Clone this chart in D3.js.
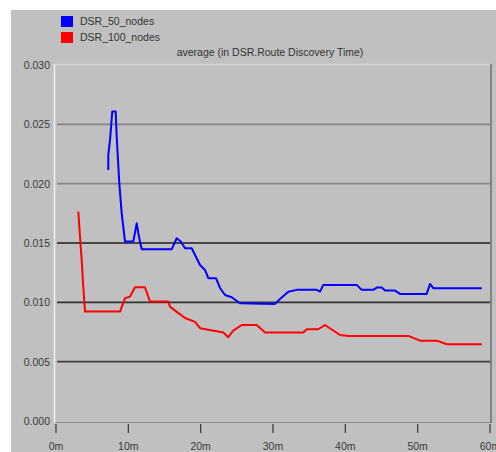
<!DOCTYPE html>
<html>
<head>
<meta charset="utf-8">
<script src="https://cdn.jsdelivr.net/npm/d3@7/dist/d3.min.js"></script>
<style>
  html, body { margin: 0; padding: 0; background: #fff; }
</style>
</head>
<body>
<svg id="chart"></svg>
<script>
// series: time in minutes, value in seconds
const seriesNames = ['DSR_50_nodes', 'DSR_100_nodes'];
const seriesColors = ['#0000ff', '#ff0000'];

const blueTimes = [7.23, 7.23, 7.47, 7.78, 8.25, 8.39, 8.75, 9.08, 9.3, 9.54, 10.69, 11.16, 11.38, 11.61,
  11.85, 16.0, 16.69, 17.24, 17.84, 18.76, 19.45, 19.91, 20.6, 21.06, 22.12, 22.67, 23.37, 24.29, 25.44,
  30.28, 30.97, 32.12, 33.28, 36.04, 36.5, 36.96, 41.57, 42.26, 43.87, 44.34, 45.03, 45.49, 46.87, 47.56,
  51.25, 51.71, 52.16, 58.86];
const blueValues = [0.02116, 0.02243, 0.02369, 0.02608, 0.02608, 0.02397, 0.02004, 0.01751, 0.01638,
  0.01512, 0.01512, 0.01667, 0.01583, 0.01512, 0.01448, 0.01448, 0.0154, 0.01512, 0.01456, 0.01456,
  0.01372, 0.01315, 0.01273, 0.01203, 0.01203, 0.01121, 0.01062, 0.01043, 0.00992, 0.00987, 0.01029,
  0.0109, 0.01105, 0.01105, 0.0109, 0.01147, 0.01147, 0.01105, 0.01105, 0.01124, 0.01124, 0.01099,
  0.01099, 0.01071, 0.01071, 0.01155, 0.01119, 0.01119];

const redTimes = [3.08, 3.32, 3.55, 3.77, 4.01, 8.85, 9.54, 10.23, 10.92, 12.3, 13.0, 15.53, 15.76, 16.87,
  17.84, 19.22, 19.91, 23.13, 23.82, 24.51, 25.67, 27.75, 28.9, 34.19, 34.66, 36.26, 37.19, 39.26, 40.41,
  48.71, 50.32, 52.63, 54.02, 58.86];
const redValues = [0.01765, 0.01554, 0.01358, 0.01132, 0.00922, 0.00922, 0.01035, 0.01048, 0.01127,
  0.01127, 0.01006, 0.01006, 0.00964, 0.00911, 0.00868, 0.00835, 0.00782, 0.00745, 0.00706, 0.00761,
  0.00809, 0.00809, 0.00745, 0.00745, 0.00773, 0.00773, 0.00809, 0.00725, 0.00717, 0.00717, 0.00677,
  0.00677, 0.00647, 0.00647];

const yTicks = [0, 0.005, 0.01, 0.015, 0.02, 0.025, 0.03];
const xTicks = [0, 10, 20, 30, 40, 50, 60];
const gridColors = ['#3c3c3c', '#333', '#1e1e1e', '#888', '#858585'];
const title = 'average (in DSR.Route Discovery Time)';

const width = 496;
const height = 452;

const svg = d3.select('#chart').attr('width', width).attr('height', height);

// gray panel
svg.append('rect')
  .attr('x', 11).attr('y', 10)
  .attr('width', width - 11).attr('height', height - 10)
  .attr('fill', '#c0c0c0');

const x = d3.scaleLinear().domain([0, 60]).range([56, 490]);
const y = d3.scaleLinear().domain([0, 0.03]).range([421, 65]);

const font = 'Liberation Sans, Arial, sans-serif';

// frame
svg.append('line').attr('x1', 55).attr('x2', 491).attr('y1', 64.5).attr('y2', 64.5)
  .attr('stroke', '#d6d6d6').attr('stroke-width', 1.5);
svg.append('line').attr('x1', 55).attr('x2', 491).attr('y1', 422.5).attr('y2', 422.5)
  .attr('stroke', '#8c8c8c').attr('stroke-width', 1.2);
svg.append('line').attr('x1', 491).attr('x2', 491).attr('y1', 64).attr('y2', 423)
  .attr('stroke', '#6e6e6e').attr('stroke-width', 1.5);
svg.append('line').attr('x1', 54.5).attr('x2', 54.5).attr('y1', 64).attr('y2', 423)
  .attr('stroke', '#f0f0f0').attr('stroke-width', 1.5);

// horizontal grid lines
svg.append('g')
  .selectAll('line')
  .data(yTicks.slice(1, 6))
  .join('line')
  .attr('x1', 57)
  .attr('x2', 490)
  .attr('y1', (d) => y(d))
  .attr('y2', (d) => y(d))
  .attr('stroke', (d, i) => gridColors[i])
  .attr('stroke-width', 1.6);

// y axis labels
svg.append('g')
  .attr('font-family', font)
  .attr('font-size', 10.5)
  .attr('fill', '#3a3a3a')
  .selectAll('text')
  .data(yTicks)
  .join('text')
  .attr('x', 50)
  .attr('y', (d) => y(d) + 4)
  .attr('text-anchor', 'end')
  .text((d) => d3.format('.3f')(d));

// x axis ticks + labels
const xAxis = svg.append('g')
  .attr('font-family', font)
  .attr('font-size', 10.5)
  .attr('fill', '#3a3a3a');

xAxis.selectAll('line')
  .data(xTicks)
  .join('line')
  .attr('x1', (d) => x(d))
  .attr('x2', (d) => x(d))
  .attr('y1', 424)
  .attr('y2', 433)
  .attr('stroke', '#333')
  .attr('stroke-width', 1.2);

xAxis.selectAll('text')
  .data(xTicks)
  .join('text')
  .attr('x', (d) => x(d))
  .attr('y', 450)
  .attr('text-anchor', 'middle')
  .text((d) => d + 'm');

// data lines
const line = d3.line()
  .x((d) => x(d[0]))
  .y((d) => y(d[1]));

const series = [
  d3.zip(blueTimes, blueValues),
  d3.zip(redTimes, redValues)
];

svg.append('g')
  .selectAll('path')
  .data(series)
  .join('path')
  .attr('d', line)
  .attr('fill', 'none')
  .attr('stroke', (d, i) => seriesColors[i])
  .attr('stroke-width', 2)
  .attr('stroke-linejoin', 'round');

// legend
const legend = svg.append('g')
  .attr('font-family', font)
  .attr('font-size', 10.5)
  .attr('fill', '#333');

legend.selectAll('rect')
  .data(seriesNames)
  .join('rect')
  .attr('x', 61)
  .attr('y', (d, i) => 16 + i * 16)
  .attr('width', 12)
  .attr('height', 11)
  .attr('fill', (d, i) => seriesColors[i]);

legend.selectAll('text')
  .data(seriesNames)
  .join('text')
  .attr('x', 80)
  .attr('y', (d, i) => 25 + i * 16)
  .text((d) => d);

svg.append('text')
  .attr('x', 270)
  .attr('y', 56)
  .attr('text-anchor', 'middle')
  .attr('font-family', font)
  .attr('font-size', 10.5)
  .attr('fill', '#333')
  .text(title);
</script>
</body>
</html>
